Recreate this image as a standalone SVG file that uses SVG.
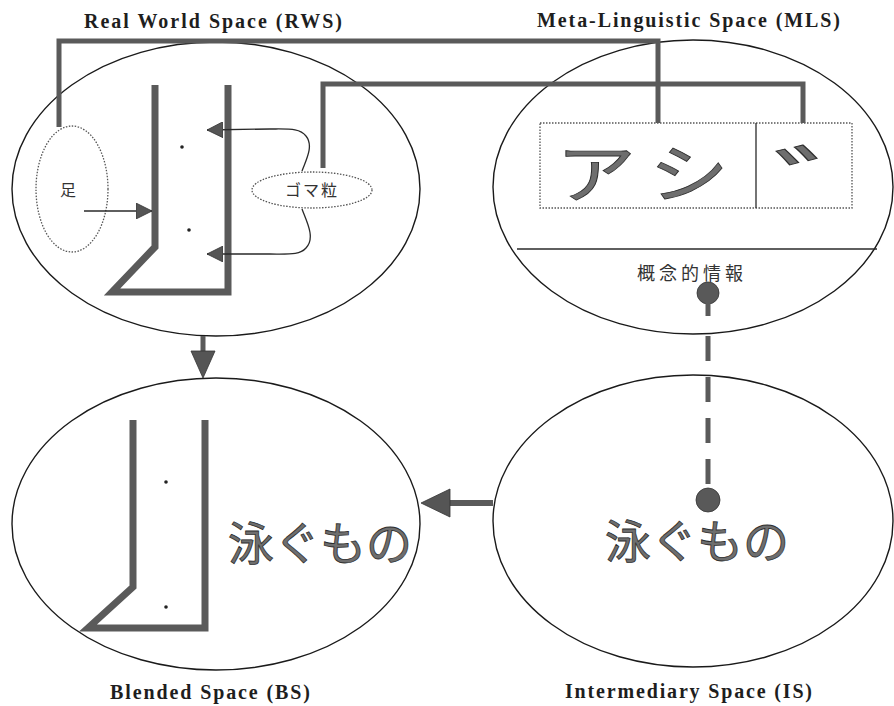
<svg xmlns="http://www.w3.org/2000/svg" width="894" height="706" viewBox="0 0 894 706">
  <defs>
    <style>
      .space { fill: none; stroke: #1a1a1a; stroke-width: 1.4; }
      .title { font-family: "Liberation Serif", "DejaVu Serif", serif; font-weight: bold; font-size: 20px; fill: #1e1e1e; }
      .jp { font-family: "Noto Sans CJK JP", "Noto Sans CJK SC", sans-serif; fill: #333; }
      .big { font-family: "Noto Sans CJK JP", "Noto Sans CJK SC", sans-serif; fill: #6e6e6e; stroke: #2e2e2e; stroke-width: 0.8; }
      .boot { fill: none; stroke: #5a5a5a; stroke-width: 7; stroke-linejoin: miter; }
      .dotted { fill: none; stroke: #555; stroke-width: 1.3; stroke-dasharray: 1.5 1.5; }
      .wire { fill: none; stroke: #5a5a5a; stroke-width: 5; }
      .thin { fill: none; stroke: #2a2a2a; stroke-width: 1.3; }
      .head { fill: #555; stroke: #333; stroke-width: 0.8; }
      .pt { fill: #222; }
    </style>
    <marker id="tri" viewBox="0 0 10 10" refX="10" refY="5" markerWidth="16" markerHeight="16" markerUnits="userSpaceOnUse" orient="auto">
      <path d="M0,0 L10,5 L0,10 Z" fill="#555" stroke="#333" stroke-width="0.5"/>
    </marker>
  </defs>

  <!-- Real World Space -->
  <g id="rws">
    <ellipse class="space" cx="216" cy="189" rx="204" ry="147"/>
    <text class="title" x="84" y="28" textLength="258" lengthAdjust="spacing">Real World Space (RWS)</text>
    <path class="boot" d="M155,85 V247 L112,292 H228 V85"/>
    <circle class="pt" cx="182" cy="147" r="1.8"/>
    <circle class="pt" cx="189" cy="230" r="1.8"/>
    <g id="ashi">
      <ellipse class="dotted" cx="72" cy="189" rx="36" ry="63"/>
      <text class="jp" x="68" y="196" font-size="16" text-anchor="middle">足</text>
    </g>
    <g id="goma">
      <ellipse class="dotted" cx="312" cy="190" rx="60" ry="18"/>
      <text class="jp" x="312" y="196" font-size="16" text-anchor="middle" letter-spacing="2">ゴマ粒</text>
    </g>
  </g>

  <!-- Meta-Linguistic Space -->
  <g id="mls">
    <ellipse class="space" cx="693" cy="187" rx="200" ry="147"/>
    <text class="title" x="537" y="27" textLength="303" lengthAdjust="spacing">Meta-Linguistic Space (MLS)</text>
    <rect class="dotted" x="540" y="123" width="312" height="85"/>
    <line class="thin" x1="756" y1="123" x2="756" y2="208" stroke-width="1"/>
    <text class="big" transform="translate(596,197) scale(1.25,1)" font-size="64" text-anchor="middle">ア</text>
    <text class="big" transform="translate(689,197) scale(1.25,1)" font-size="64" text-anchor="middle">シ</text>
    <text class="big" transform="translate(773,217) scale(2.2,1.1)" font-size="76" stroke-width="0.5">ﾞ</text>
    <line class="thin" x1="517" y1="249" x2="877" y2="249"/>
    <text class="jp" x="692" y="280" font-size="18" text-anchor="middle" letter-spacing="4">概念的情報</text>
  </g>

  <!-- Blended Space -->
  <g id="bs">
    <ellipse class="space" cx="216" cy="524" rx="204" ry="146"/>
    <text class="title" x="110" y="699" textLength="200" lengthAdjust="spacing">Blended Space (BS)</text>
    <path class="boot" d="M133,420 V587 L88,628 H205 V420"/>
    <circle class="pt" cx="166" cy="482" r="1.8"/>
    <circle class="pt" cx="166" cy="607" r="1.8"/>
    <text class="big" x="320" y="560" font-size="46" text-anchor="middle">泳ぐもの</text>
  </g>

  <!-- Intermediary Space -->
  <g id="is">
    <ellipse class="space" cx="693" cy="521" rx="200" ry="146"/>
    <text class="title" x="565" y="698" textLength="247" lengthAdjust="spacing">Intermediary Space (IS)</text>
    <text class="big" x="697" y="558" font-size="46" text-anchor="middle">泳ぐもの</text>
  </g>

  <!-- Connectors -->
  <g id="connectors">
    <!-- 足 to ア・シ -->
    <path class="wire" d="M59,127 V41 H658 V123"/>
    <!-- ゴマ粒 to dakuten -->
    <path class="wire" d="M323,168 V84 H803 V123"/>
    <!-- 足 into the boot -->
    <line class="thin" x1="84" y1="211" x2="152" y2="211" stroke-width="1.2" marker-end="url(#tri)"/>
    <!-- ゴマ粒 to the two dots -->
    <path class="thin" d="M302,171 C306,160 314,146 306,136 C300,128 290,129 270,129 L207,130" marker-end="url(#tri)"/>
    <path class="thin" d="M302,209 C306,220 316,238 306,248 C300,255 290,254 270,254 L207,254" marker-end="url(#tri)"/>
    <!-- RWS down to BS -->
    <line x1="203" y1="336" x2="203" y2="352" stroke="#5a5a5a" stroke-width="5"/>
    <path class="head" d="M191,351 L215,351 L203,378 Z"/>
    <!-- IS across to BS -->
    <line x1="493" y1="503" x2="448" y2="503" stroke="#5a5a5a" stroke-width="6"/>
    <path class="head" d="M450,489 L450,517 L421,503 Z"/>
    <!-- conceptual information pin down to IS -->
    <circle cx="708" cy="293" r="11" fill="#595959" stroke="#333" stroke-width="0.8"/>
    <line x1="708" y1="300" x2="708" y2="316" stroke="#5a5a5a" stroke-width="5"/>
    <line x1="708" y1="336" x2="708" y2="486" stroke="#5a5a5a" stroke-width="5" stroke-dasharray="25 16"/>
    <circle cx="708" cy="500" r="12" fill="#595959" stroke="#333" stroke-width="0.8"/>
  </g>
</svg>
